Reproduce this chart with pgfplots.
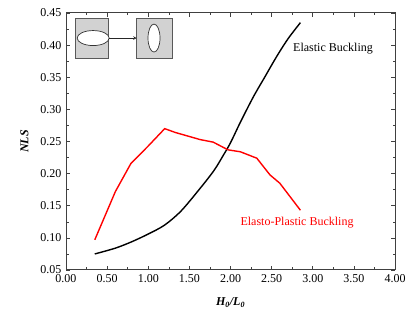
\documentclass[border=0pt]{standalone}
\usepackage{pgfplots}
\pgfplotsset{compat=1.18}
\usepackage{fontspec}
\setmainfont{Liberation Serif}
\begin{document}
\begin{tikzpicture}
\begin{axis}[
  scale only axis, width=329pt, height=257pt,
  xmin=0, xmax=4, ymin=0.05, ymax=0.45,
  xtick={0,0.5,...,4}, ytick={0.05,0.10,...,0.46},
  minor tick num=1, tick align=inside,
  major tick length=4pt, minor tick length=2.5pt,
  axis line style={line width=1pt, black!75},
  every tick/.style={black!75, line width=0.6pt},
  /pgf/number format/assume math mode=true,
  /pgf/number format/.cd, fixed, fixed zerofill, precision=2, /pgfplots/.cd,
  tick label style={font=\fontsize{12}{14}\selectfont},
  xticklabel style={yshift=-1pt},
  yticklabel style={xshift=-1pt},
  xlabel={\bfseries\itshape H\textsubscript{0}/L\textsubscript{0}},
  ylabel={\bfseries\itshape NLS},
  label style={font=\fontsize{12}{14}\selectfont},
  xlabel style={at={(axis description cs:0.5,0)}, anchor=north, yshift=-24pt},
  ylabel style={at={(axis description cs:0,0.5)}, anchor=south, xshift=0pt, yshift=34pt},
  clip=false,
]
\addplot[black, line width=1.4pt, smooth, tension=0.5] coordinates {
(0.35,0.075)(0.60,0.084)(0.80,0.094)(1.00,0.106)(1.20,0.120)(1.40,0.142)
(1.63,0.177)(1.80,0.205)(1.91,0.228)(2.00,0.248)(2.12,0.280)
(2.28,0.320)(2.42,0.351)(2.56,0.382)(2.70,0.410)(2.85,0.435)};
\addplot[red, line width=1.4pt] coordinates {
(0.35,0.097)(0.45,0.127)(0.60,0.172)(0.79,0.216)(1.00,0.243)(1.20,0.270)
(1.33,0.264)(1.63,0.253)(1.79,0.249)(1.97,0.237)(2.12,0.234)(2.32,0.224)
(2.48,0.198)(2.60,0.185)(2.85,0.143)};
\node[anchor=west, font=\fontsize{12}{14}\selectfont, inner sep=0pt] at (axis cs:2.76,0.395) {Elastic Buckling};
\node[anchor=west, font=\fontsize{12}{14}\selectfont, inner sep=0pt, text=red] at (axis cs:2.12,0.123) {Elasto-Plastic Buckling};
\draw[fill=gray!35, draw=gray!70!black, line width=0.6pt] (axis cs:0.11,0.442) rectangle (axis cs:0.52,0.38);
\draw[fill=gray!35, draw=gray!70!black, line width=0.6pt] (axis cs:0.86,0.442) rectangle (axis cs:1.29,0.38);
\draw[fill=white, draw=gray!40!black, line width=0.7pt] (axis cs:0.33,0.411) ellipse [x radius=16pt, y radius=7.5pt];
\draw[fill=white, draw=gray!40!black, line width=0.7pt] (axis cs:1.07,0.411) ellipse [x radius=6pt, y radius=14pt];
\draw[-stealth, gray!30!black, line width=0.6pt] (axis cs:0.52,0.411) -- (axis cs:0.86,0.411);
\end{axis}
\pgfresetboundingbox
\path ([shift={(-66pt,-45pt)}]current axis.south west) rectangle ([shift={(11pt,13pt)}]current axis.north east);
\end{tikzpicture}
\end{document}
